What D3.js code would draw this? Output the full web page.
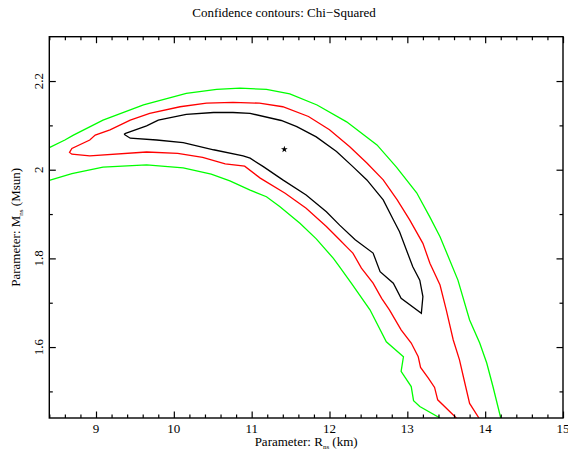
<!DOCTYPE html>
<html>
<head>
<meta charset="utf-8">
<script src="https://cdn.jsdelivr.net/npm/d3@7"></script>
<style>
  body { margin: 0; background: #fff; }
</style>
</head>
<body>
<svg id="chart" width="568" height="456"></svg>
<script>
// axis ticks
var xMajor = [9, 10, 11, 12, 13, 14, 15];
var yMajor = [1.6, 1.8, 2, 2.2];
var yLabels = ["1.6", "1.8", "2", "2.2"];

// best fit point
var bestFit = [[11.42, 2.046]];

// 68% contour (black, closed)
var black = [
  [9.36,2.080],[9.38,2.082],[9.65,2.099],[9.80,2.112],[10.16,2.125],[10.51,2.129],
  [10.76,2.129],[10.98,2.127],[11.38,2.111],[11.58,2.097],[11.83,2.074],[12.09,2.041],
  [12.30,2.007],[12.48,1.977],[12.69,1.932],[12.82,1.887],[12.90,1.860],[13.07,1.781],
  [13.16,1.751],[13.20,1.714],[13.18,1.676],[12.92,1.710],[12.82,1.744],[12.65,1.770],
  [12.56,1.812],[12.33,1.842],[12.13,1.875],[11.96,1.905],[11.70,1.943],[11.40,1.977],
  [11.15,2.007],[10.98,2.026],[10.89,2.031],[10.51,2.045],[10.12,2.061],[9.78,2.067],
  [9.44,2.071],[9.36,2.080]
];

// 90% contour (red, open at bottom)
var red = [
  [13.63,1.440],[13.39,1.481],[13.35,1.509],[13.27,1.530],[13.17,1.554],[13.14,1.578],
  [13.05,1.609],[12.92,1.639],[12.77,1.684],[12.67,1.710],[12.56,1.744],[12.41,1.778],
  [12.30,1.812],[12.22,1.826],[12.13,1.842],[11.96,1.872],[11.70,1.913],[11.43,1.947],
  [11.11,1.981],[10.91,2.008],[10.66,2.013],[10.37,2.028],[10.05,2.037],[9.65,2.040],
  [8.92,2.031],[8.69,2.035],[8.66,2.039],[8.69,2.048],[8.92,2.067],[8.99,2.078],
  [9.18,2.090],[9.44,2.112],[9.69,2.127],[10.08,2.142],[10.42,2.150],[10.76,2.152],
  [11.10,2.150],[11.40,2.142],[11.73,2.120],[12.00,2.090],[12.26,2.052],[12.48,2.015],
  [12.69,1.977],[12.87,1.932],[13.03,1.887],[13.20,1.834],[13.29,1.789],[13.42,1.740],
  [13.50,1.684],[13.59,1.616],[13.67,1.571],[13.72,1.533],[13.80,1.473],[13.92,1.440]
];

// 99% contour (green), upper and lower branches
var greenUpper = [
  [8.40,2.050],[8.60,2.067],[8.71,2.078],[9.09,2.112],[9.61,2.146],[10.16,2.172],
  [10.55,2.181],[10.85,2.184],[11.19,2.181],[11.49,2.171],[11.84,2.146],[12.22,2.108],
  [12.61,2.056],[12.86,2.006],[13.12,1.948],[13.29,1.893],[13.42,1.849],[13.65,1.751],
  [13.80,1.661],[13.93,1.609],[14.02,1.564],[14.10,1.511],[14.20,1.440]
];
var greenLower = [
  [8.40,1.976],[8.69,1.991],[9.09,2.006],[9.65,2.011],[10.12,2.004],[10.48,1.990],
  [10.72,1.975],[10.98,1.954],[11.19,1.939],[11.36,1.917],[11.62,1.879],[11.83,1.844],
  [12.05,1.800],[12.13,1.781],[12.28,1.744],[12.52,1.684],[12.73,1.612],[12.95,1.578],
  [12.92,1.545],[13.05,1.511],[13.08,1.479],[13.16,1.466],[13.42,1.440]
];

var W = 568, H = 456;
var margin = {top: 36.7, right: 5, bottom: 38, left: 49.3};
var FONT = "'Liberation Serif', 'Times New Roman', 'DejaVu Serif', serif";
var svg = d3.select("#chart");

var x = d3.scaleLinear().domain([8.4, 15]).range([margin.left, W - margin.right]);
var y = d3.scaleLinear().domain([1.44, 2.3]).range([H - margin.bottom, margin.top]);

svg.append("clipPath").attr("id", "plotclip")
  .append("rect")
  .attr("x", margin.left).attr("y", margin.top)
  .attr("width", W - margin.left - margin.right)
  .attr("height", H - margin.top - margin.bottom);

var line = d3.line().x(function(d){ return x(d[0]) }).y(function(d){ return y(d[1]) });

var g = svg.append("g").attr("clip-path", "url(#plotclip)");
g.append("path").datum(greenUpper).attr("d", line).attr("fill", "none").attr("stroke", "#00ff00").attr("stroke-width", 1.3);
g.append("path").datum(greenLower).attr("d", line).attr("fill", "none").attr("stroke", "#00ff00").attr("stroke-width", 1.3);
g.append("path").datum(red).attr("d", line).attr("fill", "none").attr("stroke", "#ff0000").attr("stroke-width", 1.3);
g.append("path").datum(black).attr("d", line).attr("fill", "none").attr("stroke", "#000").attr("stroke-width", 1.3);

g.selectAll(".star")
  .data(bestFit)
  .enter()
  .append("path")
  .attr("class", "star")
  .attr("transform", function(d){ return "translate(" + x(d[0]) + "," + y(d[1]) + ")" })
  .attr("d", d3.symbol(d3.symbolStar).size(14))
  .attr("fill", "#000");

// axes, ticks on all four sides pointing inward
var xMinor = d3.range(8.4, 15.001, 0.2).filter(function(v){ return Math.abs(v - Math.round(v)) > 0.01 });
var yMinor = [1.5, 1.7, 1.9, 2.1];

function tickAxis(axis, ticks, size) {
  return axis.tickValues(ticks).tickSize(size).tickSizeOuter(0).tickFormat("");
}
var bottomY = H - margin.bottom, rightX = W - margin.right;

svg.append("g").attr("transform", "translate(0," + bottomY + ")").call(tickAxis(d3.axisTop(x), xMinor, 3.5));
svg.append("g").attr("transform", "translate(0," + bottomY + ")").call(tickAxis(d3.axisTop(x), xMajor, 6.5));
svg.append("g").attr("transform", "translate(0," + margin.top + ")").call(tickAxis(d3.axisBottom(x), xMinor, 3.5));
svg.append("g").attr("transform", "translate(0," + margin.top + ")").call(tickAxis(d3.axisBottom(x), xMajor, 6.5));
svg.append("g").attr("transform", "translate(" + margin.left + ",0)").call(tickAxis(d3.axisRight(y), yMinor, 3.5));
svg.append("g").attr("transform", "translate(" + margin.left + ",0)").call(tickAxis(d3.axisRight(y), yMajor, 6.5));
svg.append("g").attr("transform", "translate(" + rightX + ",0)").call(tickAxis(d3.axisLeft(y), yMinor, 3.5));
svg.append("g").attr("transform", "translate(" + rightX + ",0)").call(tickAxis(d3.axisLeft(y), yMajor, 6.5));

svg.selectAll(".domain").remove();
svg.selectAll(".tick line").attr("stroke", "#000").attr("stroke-width", 1.2);

svg.append("rect")
  .attr("x", margin.left).attr("y", margin.top)
  .attr("width", rightX - margin.left).attr("height", bottomY - margin.top)
  .attr("fill", "none").attr("stroke", "#000").attr("stroke-width", 1.4);

// tick labels
svg.selectAll(".xlab")
  .data(xMajor)
  .enter()
  .append("text")
  .attr("class", "xlab")
  .attr("x", function(d){ return x(d) })
  .attr("y", bottomY + 15)
  .attr("text-anchor", "middle")
  .attr("font-family", FONT)
  .attr("font-size", 13)
  .text(function(d){ return d });

svg.selectAll(".ylab")
  .data(yMajor)
  .enter()
  .append("text")
  .attr("class", "ylab")
  .attr("transform", function(d){ return "translate(" + (margin.left - 6) + "," + y(d) + ") rotate(-90)" })
  .attr("text-anchor", "middle")
  .attr("font-family", FONT)
  .attr("font-size", 13)
  .text(function(d, i){ return yLabels[i] });

// titles
svg.append("text")
  .attr("x", W / 2).attr("y", 17)
  .attr("text-anchor", "middle")
  .attr("font-family", FONT)
  .attr("font-size", 13)
  .text("Confidence contours: Chi\u2212Squared");

var xt = svg.append("text")
  .attr("x", (margin.left + rightX) / 2).attr("y", 446)
  .attr("text-anchor", "middle")
  .attr("font-family", FONT)
  .attr("font-size", 13);
xt.append("tspan").text("Parameter: R");
xt.append("tspan").attr("dy", 3).attr("font-size", 7).text("ns");
xt.append("tspan").attr("dy", -3).text(" (km)");

var yt = svg.append("text")
  .attr("transform", "translate(20," + ((margin.top + bottomY) / 2) + ") rotate(-90)")
  .attr("text-anchor", "middle")
  .attr("font-family", FONT)
  .attr("font-size", 13);
yt.append("tspan").text("Parameter: M");
yt.append("tspan").attr("dy", 3).attr("font-size", 7).text("ns");
yt.append("tspan").attr("dy", -3).text(" (Msun)");
</script>
</body>
</html>
